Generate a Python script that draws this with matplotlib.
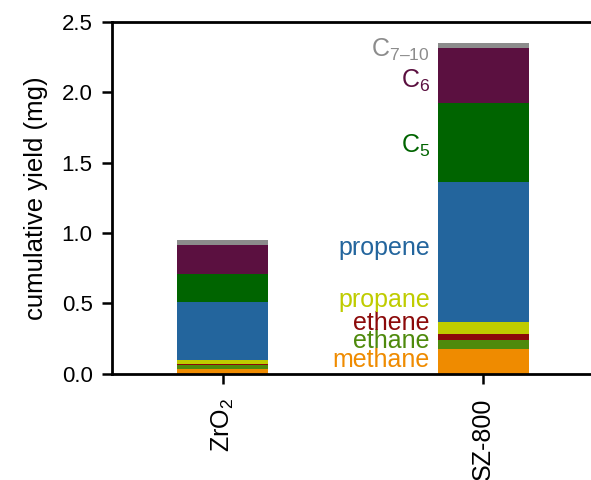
import numpy as np
import matplotlib
matplotlib.use('Agg')
import matplotlib.pyplot as plt

plt.rcParams['font.family'] = ['Liberation Sans', 'DejaVu Sans']
plt.rcParams['mathtext.fontset'] = 'custom'
plt.rcParams['mathtext.rm'] = 'Liberation Sans'
plt.rcParams['mathtext.it'] = 'Liberation Sans'

# catalysts on the x axis
catalysts = [r'ZrO$_2$', 'SZ-800']

# product groups, stacked from bottom to top
products = ['methane', 'ethane', 'ethene', 'propane', 'propene',
            r'C$_5$', r'C$_6$', 'C$_{7–10}$']
colors = ['#ef8b00', '#4e8a0c', '#8c0a0a', '#bfcc00', '#23659d',
          '#006400', '#5b1040', '#8c8c8c']

# cumulative yield per product (mg)
zro2 = [0.035, 0.026, 0.010, 0.028, 0.414, 0.194, 0.208, 0.035]
sz800 = [0.175, 0.068, 0.040, 0.087, 0.989, 0.561, 0.390, 0.040]

# baseline heights of the product labels next to the SZ-800 bar
label_y = [0.048, 0.182, 0.312, 0.478, 0.845, 1.566, 2.032, 2.252]

fig = plt.figure(figsize=(5.91, 4.8), dpi=100)
ax = fig.add_axes([0.1895, 0.221, 0.8156, 0.734])

x = np.arange(len(catalysts))
width = 0.35
data = np.array([zro2, sz800])
bottom = np.zeros(len(catalysts))
for i, (name, c) in enumerate(zip(products, colors)):
    ax.bar(x, data[:, i], width, bottom=bottom, color=c, linewidth=0)
    bottom += data[:, i]

for name, c, y in zip(products, colors, label_y):
    ax.text(x[1] - width / 2 - 0.03, y, name,
            color=c, fontsize=18, ha='right', va='baseline')

ax.set_xlim(-0.425, 1.425)
ax.set_ylim(0, 2.5)
ax.set_yticks([0.0, 0.5, 1.0, 1.5, 2.0, 2.5])
ax.set_xticks(x)
ax.set_xticklabels(catalysts, rotation=90)
ax.set_ylabel('cumulative yield (mg)', fontsize=18.5, labelpad=10)

for s in ax.spines.values():
    s.set_linewidth(2)
ax.tick_params(axis='both', length=7, width=1.8)
ax.tick_params(axis='y', labelsize=16, pad=7)
ax.tick_params(axis='x', labelsize=18, pad=10)

fig.savefig('out.png', dpi=100)
